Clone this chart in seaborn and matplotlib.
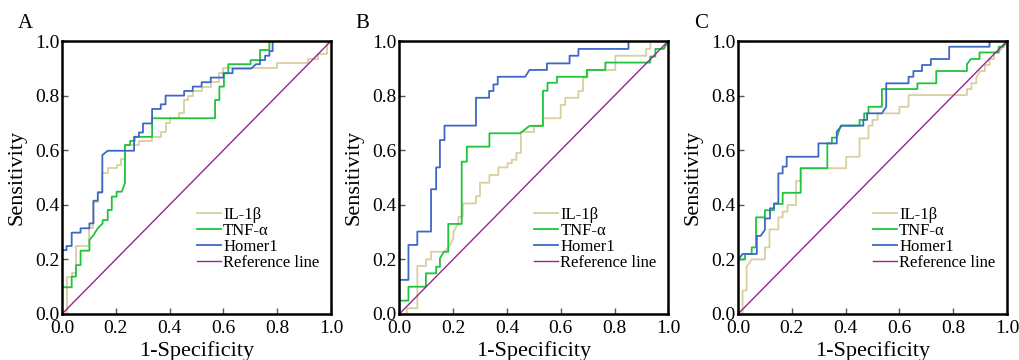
import matplotlib
matplotlib.use("Agg")
import pandas as pd
import matplotlib.pyplot as plt
import seaborn as sns

# ---- ROC curve points (1-specificity, sensitivity) ----
A_IL1B_X = [0, .017, .017, .036, .036, .052, .052, .102, .102, .117, .117, .133, .133, .147, .147, .17, .17,
            .203, .203, .219, .219, .234, .234, .285, .285, .335, .335, .367, .367, .385, .385, .401, .401,
            .435, .435, .454, .454, .470, .470, .486, .486, .519, .519, .553, .553, .585, .585, .60, .60,
            .798, .798, .916, .916, .953, .953, .984, .984, 1]
A_IL1B_Y = [0, 0, .137, .137, .149, .149, .249, .249, .314, .314, .411, .411, .442, .442, .515, .515, .534,
            .534, .546, .546, .568, .568, .619, .619, .634, .634, .649, .649, .668, .668, .698, .698, .717,
            .717, .735, .735, .784, .784, .80, .80, .817, .817, .833, .833, .849, .849, .882, .882, .902,
            .902, .921, .921, .935, .935, .951, .951, 1.0, 1.0]
A_TNF_X = [0, 0, .036, .036, .052, .052, .069, .069, .102, .102, .117, .133, .151, .151, .17, .17, .185, .185,
           .203, .203, .222, .234, .234, .253, .253, .27, .27, .335, .335, .569, .569, .585, .585, .602, .602,
           .618, .618, .701, .701, .736, .736, .771, .771, 1]
A_TNF_Y = [0, .098, .098, .137, .137, .179, .179, .232, .232, .271, .289, .314, .332, .344, .344, .381, .381, .43,
           .43, .448, .448, .479, .619, .619, .634, .634, .649, .649, .717, .717, .784, .784, .833, .833, .882,
           .882, .915, .915, .93, .93, .967, .967, 1.0, 1.0]
A_HOMER_X = [0, 0, .017, .017, .036, .036, .069, .069, .102, .102, .117, .117, .133, .133, .15, .15, .17, .268,
             .268, .286, .286, .301, .301, .335, .335, .367, .367, .385, .385, .454, .454, .486, .486, .519, .519,
             .553, .553, .60, .60, .634, .634, .703, .721, .736, .736, .755, .755, .771, .771, .783, .783, 1]
A_HOMER_Y = [0, .234, .234, .249, .249, .298, .298, .314, .314, .332, .332, .415, .415, .446, .446, .582, .598,
             .598, .649, .649, .665, .665, .698, .698, .751, .751, .768, .768, .80, .80, .817, .817, .833, .833,
             .849, .849, .866, .866, .882, .882, .899, .899, .915, .915, .93, .93, .946, .946, .963, .963, 1.0, 1.0]

B_IL1B_X = [0, .028, .028, .067, .067, .099, .099, .118, .118, .168, .186, .201, .201, .22, .22, .236, .236, .285,
            .285, .30, .30, .335, .335, .368, .368, .402, .402, .418, .418, .435, .435, .452, .452, .501, .501,
            .534, .534, .60, .60, .617, .617, .666, .666, .683, .683, .70, .70, .803, .803, .918, .918, .933,
            .933, 1]
B_IL1B_Y = [0, 0, .021, .021, .176, .176, .20, .20, .228, .228, .249, .277, .302, .332, .356, .356, .405, .405,
            .432, .432, .481, .481, .509, .509, .537, .537, .552, .552, .565, .565, .59, .59, .667, .667, .69,
            .69, .717, .717, .766, .766, .792, .792, .817, .817, .866, .866, .894, .894, .946, .946, .971, .971,
            1.0, 1.0]
B_TNF_X = [0, 0, .034, .034, .099, .099, .137, .137, .151, .151, .166, .182, .182, .232, .232, .251, .251, .335,
           .335, .449, .484, .534, .534, .551, .551, .586, .586, .697, .697, .766, .766, .933, .933, .952, .952,
           .983, 1]
B_TNF_Y = [0, .049, .049, .10, .10, .149, .149, .173, .173, .204, .228, .228, .33, .33, .558, .558, .613, .613,
           .662, .662, .689, .689, .818, .818, .847, .847, .869, .869, .894, .894, .921, .921, .943, .943, .971,
           .971, 1.0]
B_HOMER_X = [0, 0, .034, .034, .067, .067, .118, .118, .137, .137, .151, .151, .168, .168, .285, .285, .334,
             .334, .35, .35, .366, .366, .468, .484, .549, .549, .633, .633, .666, .666, .852, .852, 1]
B_HOMER_Y = [0, .125, .125, .253, .253, .302, .302, .457, .457, .537, .537, .637, .637, .69, .69, .792, .792,
             .817, .817, .841, .841, .869, .869, .894, .894, .918, .918, .946, .946, .971, .971, 1.0, 1.0]

C_IL1B_X = [0, .017, .017, .032, .032, .051, .1, .1, .117, .117, .15, .15, .166, .166, .184, .184, .216, .216,
            .233, .233, .402, .402, .452, .452, .485, .485, .50, .50, .519, .519, .60, .60, .634, .634, .851,
            .851, .868, .868, .886, .886, .90, .918, .918, .935, .935, .952, .952, .97, .985, 1]
C_IL1B_Y = [0, 0, .086, .086, .173, .20, .20, .244, .244, .31, .31, .354, .354, .375, .375, .399, .399, .488,
            .488, .534, .534, .576, .576, .643, .643, .69, .69, .711, .711, .735, .735, .759, .759, .802, .802,
            .824, .824, .845, .845, .866, .89, .89, .912, .912, .934, .934, .958, .958, .98, 1.0]
C_TNF_X = [0, 0, .026, .026, .051, .051, .067, .067, .10, .10, .134, .134, .166, .166, .233, .233, .332, .332,
           .349, .349, .367, .382, .452, .452, .469, .469, .485, .485, .535, .535, .667, .667, .737, .737, .851,
           .851, .866, .898, .898, .969, .969, .987, 1]
C_TNF_Y = [0, .20, .20, .22, .22, .244, .244, .354, .354, .38, .38, .403, .403, .444, .444, .534, .534, .625,
           .625, .646, .646, .69, .69, .711, .711, .735, .735, .759, .759, .824, .824, .845, .845, .89, .89,
           .915, .934, .934, .958, .958, .979, .979, 1.0]
C_HOMER_X = [0, 0, .017, .07, .07, .084, .10, .10, .119, .119, .134, .134, .15, .15, .166, .166, .181, .181,
             .299, .299, .367, .367, .386, .466, .466, .48, .48, .535, .551, .551, .634, .634, .652, .652, .684,
             .684, .717, .717, .785, .785, .935, .935, 1]
C_HOMER_Y = [0, .198, .22, .22, .286, .286, .308, .35, .35, .387, .387, .405, .405, .515, .515, .54, .54, .576,
             .576, .625, .625, .668, .69, .69, .711, .711, .735, .735, .759, .845, .845, .869, .869, .89, .89,
             .912, .912, .934, .934, .979, .979, 1.0, 1.0]

REF_X = [0.0, 1.0]
REF_Y = [0.0, 1.0]

MARKERS = ["IL-1β", "TNF-α", "Homer1", "Reference line"]
COLORS = ["#d9cf9f", "#1fc43c", "#3f67c5", "#9a2490"]
PANELS = ["A", "B", "C"]
TICKS = [0.0, 0.2, 0.4, 0.6, 0.8, 1.0]

curves = {
    "A": [(A_IL1B_X, A_IL1B_Y), (A_TNF_X, A_TNF_Y), (A_HOMER_X, A_HOMER_Y), (REF_X, REF_Y)],
    "B": [(B_IL1B_X, B_IL1B_Y), (B_TNF_X, B_TNF_Y), (B_HOMER_X, B_HOMER_Y), (REF_X, REF_Y)],
    "C": [(C_IL1B_X, C_IL1B_Y), (C_TNF_X, C_TNF_Y), (C_HOMER_X, C_HOMER_Y), (REF_X, REF_Y)],
}

plt.rcParams['font.family'] = ['Liberation Serif', 'DejaVu Serif']

fig = plt.figure(figsize=(10.19, 3.6), dpi=100)
lefts = [62 / 1019, 399.3 / 1019, 738 / 1019]

for panel, left in zip(PANELS, lefts):
    ax = fig.add_axes([left, 46 / 360, 269 / 1019, 273 / 360])
    df = pd.concat([pd.DataFrame({"fpr": x, "tpr": y, "marker": name})
                    for name, (x, y) in zip(MARKERS, curves[panel])], ignore_index=True)
    sns.lineplot(data=df, x="fpr", y="tpr", hue="marker", hue_order=MARKERS, palette=COLORS,
                 sort=False, estimator=None, legend=False, linewidth=1.3, ax=ax)
    ax.lines[3].set_linewidth(1.0)

    ax.set_xlim(0, 1)
    ax.set_ylim(0, 1)
    ax.set_xticks(TICKS)
    ax.set_yticks(TICKS)
    ax.set_xticklabels([f"{t:.1f}" for t in TICKS])
    ax.set_yticklabels([f"{t:.1f}" for t in TICKS])
    ax.tick_params(direction='in', length=4, width=1, color='#555555', labelsize=14)
    ax.tick_params(axis='x', pad=4)
    ax.tick_params(axis='y', pad=2)
    for spine in ax.spines.values():
        spine.set_linewidth(1.8)
        spine.set_color('black')

    ax.set_xlabel("1-Specificity", fontsize=16, labelpad=3)
    ax.set_ylabel("Sensitivity", fontsize=16, labelpad=6)

    ax.legend(ax.lines[:4], MARKERS, loc='center left', bbox_to_anchor=(0.5, 0.275),
              frameon=False, fontsize=12, handlelength=1.45, handletextpad=0.15,
              labelspacing=0.0, borderpad=0, borderaxespad=0)

    ax.text(-44 / 269, 1.048, panel, transform=ax.transAxes, fontsize=15, va='baseline', ha='left')

fig.savefig("out.png", dpi=100)
